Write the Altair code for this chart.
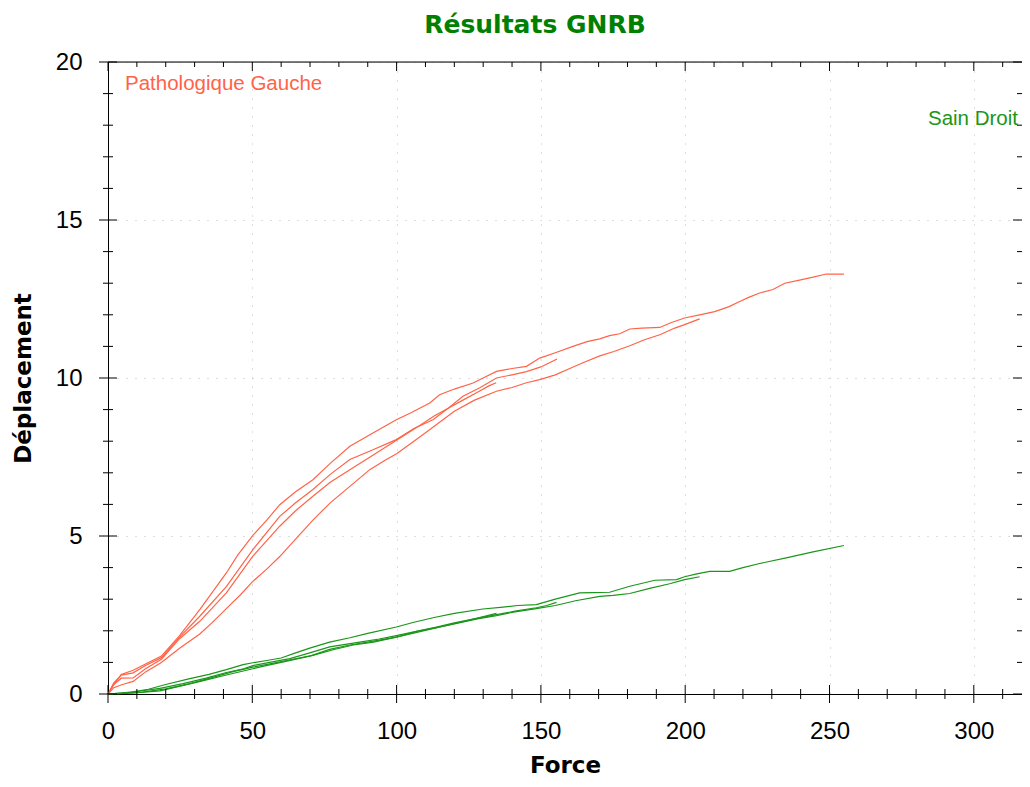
import altair as alt
import pandas as pd

# ---------------- data ----------------
R1_force = [0, 2, 4.6, 8.7, 13, 18.5, 24.8, 31.8, 36, 41, 45, 50.2, 55, 59.5, 65, 71, 77, 83.8, 91.8, 99.9,
            105, 111.5, 114.9, 120, 126.5, 130, 134.6, 140, 145, 149.6, 155, 161.1, 166, 170.4, 173.8, 177.3,
            180.8, 185, 191.2, 195, 199.8, 205, 210.2, 215, 218.9, 222, 225.8, 230.4, 234.5, 239.6, 244.3, 248.9, 255]
R1_disp = [0, 0.3, 0.62, 0.75, 0.95, 1.2, 1.85, 2.67, 3.2, 3.83, 4.4, 5.02, 5.5, 5.99, 6.4, 6.78, 7.3, 7.84, 8.26, 8.68,
           8.9, 9.21, 9.47, 9.65, 9.84, 10.0, 10.21, 10.3, 10.37, 10.63, 10.8, 11.0, 11.15, 11.24, 11.34, 11.4,
           11.55, 11.58, 11.6, 11.75, 11.9, 12.0, 12.1, 12.25, 12.42, 12.55, 12.69, 12.8, 13.0, 13.1, 13.19, 13.29, 13.29]

R2_force = [0, 2, 5, 8.7, 13, 18.5, 24.8, 31.8, 36, 41, 46, 50, 55, 59.5, 65, 71, 77, 83.8, 90.7, 96, 100, 106, 112,
            120, 127, 134.6, 140, 145, 149.6, 155, 160, 165, 170.4, 175.3, 180.8, 185.9, 191.2, 196.4, 199.8, 205]
R2_disp = [0, 0.2, 0.3, 0.4, 0.7, 1.0, 1.45, 1.9, 2.25, 2.7, 3.15, 3.55, 3.95, 4.35, 4.9, 5.5, 6.05, 6.57, 7.1, 7.4, 7.6, 8.0, 8.4,
           8.95, 9.3, 9.58, 9.7, 9.85, 9.95, 10.1, 10.3, 10.5, 10.7, 10.84, 11.02, 11.21, 11.37, 11.58, 11.69, 11.87]

R3_force = [0, 2, 4.6, 8.7, 13, 18.5, 24.8, 31.8, 41, 50.2, 59.5, 65, 71, 77, 83.8, 91, 99.9, 106, 112.6, 118,
            123, 129, 134.6, 140, 145, 150, 155.6]
R3_disp = [0, 0.35, 0.6, 0.67, 0.9, 1.15, 1.8, 2.46, 3.4, 4.57, 5.62, 6.05, 6.47, 6.95, 7.42, 7.7, 8.05, 8.4, 8.68, 9.05,
           9.42, 9.7, 10.0, 10.1, 10.2, 10.35, 10.6]

R4_force = [0, 2, 4.6, 8.7, 13, 18.5, 24.8, 31.8, 41, 50.2, 59.5, 65, 71, 77, 83.8, 90, 96, 102, 108, 113, 118, 123,
            128, 132, 134.5]
R4_disp = [0, 0.3, 0.5, 0.51, 0.8, 1.1, 1.75, 2.3, 3.2, 4.36, 5.31, 5.8, 6.26, 6.7, 7.1, 7.45, 7.8, 8.15, 8.5, 8.8,
           9.05, 9.3, 9.55, 9.75, 9.85]

G1_force = [0, 4, 8, 14, 20, 28, 35, 41, 46.8, 50.2, 55, 60, 65, 69.9, 76.8, 83.8, 90, 99.9, 106, 113, 120, 129.9,
            136, 142, 148.4, 155, 163.4, 168, 173.8, 180.8, 189.5, 197, 199.8, 204, 208.5, 215.4, 220, 225.8, 235,
            244.3, 255]
G1_disp = [0, 0.03, 0.06, 0.15, 0.3, 0.48, 0.62, 0.77, 0.93, 0.99, 1.06, 1.14, 1.3, 1.45, 1.64, 1.78, 1.92, 2.12,
           2.27, 2.42, 2.55, 2.69, 2.74, 2.8, 2.83, 3.0, 3.2, 3.21, 3.22, 3.41, 3.6, 3.62, 3.71, 3.8, 3.88, 3.88, 4.0,
           4.13, 4.31, 4.5, 4.7]

G2_force = [0, 5, 10, 18, 25, 32, 41, 50.2, 56, 62, 69.9, 76.8, 83.8, 90, 99.9, 107, 113.8, 120, 128, 134.6, 141,
            148.4, 155, 162, 170.4, 175, 180.8, 187.7, 194.6, 199.8, 205]
G2_disp = [0, 0.02, 0.04, 0.1, 0.25, 0.4, 0.6, 0.8, 0.92, 1.04, 1.2, 1.41, 1.55, 1.64, 1.8, 1.98, 2.1, 2.22, 2.38,
           2.48, 2.6, 2.7, 2.8, 2.95, 3.09, 3.12, 3.18, 3.34, 3.49, 3.62, 3.71]

G3_force = [0, 5, 10, 18, 26, 34, 41, 47, 50.2, 56, 63, 69.9, 76.8, 87.2, 94, 99.9, 106, 113.8, 120, 127, 134.6,
            141, 148.4, 152, 155.4]
G3_disp = [0, 0.03, 0.08, 0.18, 0.33, 0.5, 0.68, 0.8, 0.9, 1.0, 1.12, 1.3, 1.49, 1.64, 1.74, 1.85, 1.97, 2.12, 2.25,
           2.38, 2.51, 2.62, 2.73, 2.8, 2.9]

G4_force = [0, 6, 12, 20, 28, 36, 43, 50.2, 57, 64, 71, 78, 85, 92, 99.9, 107, 114, 121, 128, 134.6]
G4_disp = [0, 0.02, 0.06, 0.16, 0.32, 0.52, 0.7, 0.85, 0.97, 1.1, 1.22, 1.4, 1.55, 1.64, 1.8, 1.95, 2.1, 2.25,
           2.4, 2.55]

title_text = "Résultats GNRB"
sides = ["Pathologique Gauche", "Sain Droit"]
side_colors = ["#FF6347", "#1A961A"]

x_major = [0, 50, 100, 150, 200, 250, 300]
x_minor = [v for v in range(10, 320, 10) if v % 50 != 0]
y_major = [0, 5, 10, 15, 20]
y_minor = [v for v in range(1, 20) if v % 5 != 0]

# ---------------- tables ----------------
rows = []
for side, trial, fx, dy in [
    (sides[0], "R1", R1_force, R1_disp), (sides[0], "R2", R2_force, R2_disp),
    (sides[0], "R3", R3_force, R3_disp), (sides[0], "R4", R4_force, R4_disp),
    (sides[1], "G1", G1_force, G1_disp), (sides[1], "G2", G2_force, G2_disp),
    (sides[1], "G3", G3_force, G3_disp), (sides[1], "G4", G4_force, G4_disp),
]:
    for i, (f, d) in enumerate(zip(fx, dy)):
        rows.append({"side": side, "trial": trial, "idx": i, "force": f, "disp": d})
df = pd.DataFrame(rows)

W, H = 914, 632
XMAX = 316.7
x_minor = [v for v in x_minor if v <= XMAX]

xmaj = pd.DataFrame({"force": x_major})
xmin = pd.DataFrame({"force": x_minor})
ymaj = pd.DataFrame({"disp": y_major})
ymin = pd.DataFrame({"disp": y_minor})

FONT = "Liberation Sans"
BOLD = "DejaVu Sans"

X = alt.X("force:Q",
          scale=alt.Scale(domain=[0, XMAX], nice=False, zero=False),
          axis=alt.Axis(values=x_major, title="Force", format="d",
                        labelFontSize=24, labelFont=FONT, labelColor="black",
                        labelBaseline="alphabetic", labelPadding=44, labelFlush=False,
                        labelOverlap=False, ticks=False,
                        domain=True, domainColor="black", domainWidth=1,
                        grid=True, gridColor="#BDBDBD", gridDash=[1, 8], gridWidth=1,
                        titleFont=BOLD, titleFontSize=23, titleFontWeight="bold",
                        titleColor="black", titleBaseline="alphabetic", titleY=78))
Y = alt.Y("disp:Q",
          scale=alt.Scale(domain=[0, 20], nice=False, zero=False),
          axis=alt.Axis(values=y_major, title="Déplacement", format="d",
                        labelFontSize=24, labelFont=FONT, labelColor="black",
                        labelBaseline="middle", labelPadding=26, labelFlush=False,
                        labelOverlap=False, ticks=False,
                        domain=True, domainColor="black", domainWidth=1,
                        grid=True, gridColor="#BDBDBD", gridDash=[1, 8], gridWidth=1,
                        titleFont=BOLD, titleFontSize=23, titleFontWeight="bold",
                        titleColor="black", titleAngle=270, titleBaseline="alphabetic",
                        titleX=-78, titleY=H / 2))

lines = alt.Chart(df).mark_line(strokeWidth=1.2, clip=False).encode(
    x=X, y=Y,
    color=alt.Color("side:N", scale=alt.Scale(domain=sides, range=side_colors), legend=None),
    detail="trial:N",
    order="idx:Q",
)

def vrule(data, y0, y1):
    return alt.Chart(data).mark_rule(color="black", strokeWidth=1).encode(
        x=X, y=alt.value(y0), y2=alt.value(y1))

def hrule(data, x0, x1):
    return alt.Chart(data).mark_rule(color="black", strokeWidth=1).encode(
        y=Y, x=alt.value(x0), x2=alt.value(x1))

top_line = alt.Chart(ymaj).transform_filter("datum.disp == 20").mark_rule(
    color="black", strokeWidth=1).encode(y=Y, x=alt.value(0), x2=alt.value(W))

ticks = [
    vrule(xmaj, H - 9, H + 9), vrule(xmin, H - 5, H + 5),      # bottom
    vrule(xmaj, 0, 9), vrule(xmin, 0, 5),                      # top
    hrule(ymaj, -9, 9), hrule(ymin, -5, 5),                    # left
    hrule(ymaj, W - 9, W), hrule(ymin, W - 5, W),              # right
]

def text_layer(txt, font, size, weight, color, align, px, py):
    return alt.Chart(xmaj).transform_filter("datum.force == 0").mark_text(
        text=txt, font=font, fontSize=size, fontWeight=weight, color=color,
        align=align, baseline="alphabetic"
    ).encode(x=alt.value(px), y=alt.value(py))

lab_left = text_layer(sides[0], FONT, 20.5, "normal", "#FF6347", "left", 17, 28)
lab_right = text_layer(sides[1], FONT, 20.5, "normal", "#1A961A", "right", 910, 63)
title = text_layer(title_text, BOLD, 25, "bold", "#008000", "center", 427, -29)

chart = alt.layer(lines, top_line, *ticks, lab_left, lab_right, title).properties(
    width=W, height=H,
    autosize=alt.AutoSizeParams(type="none"),
    padding={"left": 100, "top": 54, "right": 0, "bottom": 84},
).configure_view(stroke=None).configure(background="white")

chart.save("out.html", embed_options={"renderer": "svg", "actions": False})
